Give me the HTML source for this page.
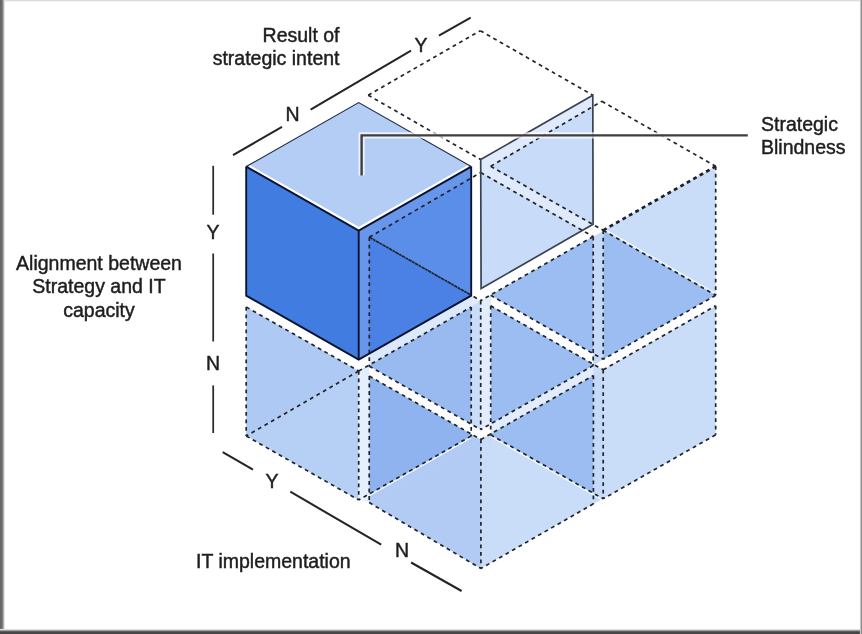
<!DOCTYPE html>
<html><head><meta charset="utf-8"><title>Strategic alignment cube</title>
<style>
html,body{margin:0;padding:0;background:#fff;}
body{width:862px;height:634px;overflow:hidden;position:relative;font-family:"Liberation Sans",sans-serif;}
.fl{position:absolute;left:0;top:0;width:6px;height:634px;background:linear-gradient(to right,#646464 0,#6c6c6c 2px,#9c9c9c 3.2px,#e4e4e4 4.4px,rgba(255,255,255,0) 5.4px);}
.fb{position:absolute;left:0;bottom:0;width:862px;height:6px;background:linear-gradient(to top,#424242 0,#484848 2.2px,#9a9a9a 3.4px,#e6e6e6 4.6px,rgba(255,255,255,0) 5.6px);}
.fr{position:absolute;right:0;top:0;width:3px;height:634px;background:linear-gradient(to left,#848484 0,#8e8e8e 0.7px,#d6d6d6 1.7px,rgba(255,255,255,0) 2.6px);}
.ft{position:absolute;left:0;top:0;width:862px;height:2px;background:linear-gradient(to bottom,#dadada 0,#dedede 0.9px,rgba(255,255,255,0) 1.9px);}
svg{position:absolute;left:0;top:0;filter:blur(0.62px);}
.d{stroke:#20242c;stroke-width:1.7;stroke-dasharray:3.8 3.7;fill:none;}
.d2{stroke:#1c2028;stroke-width:2.7;stroke-dasharray:3.9 3.5;fill:none;}
.s{stroke:#0a1430;stroke-width:1.9;fill:none;stroke-linejoin:miter;}
.s1{stroke:#1c2c4c;stroke-width:1.1;fill:none;}
.p{stroke:#3a4150;stroke-width:1.7;fill:none;}
.ax{stroke:#242424;stroke-width:2.05;}
.axv{stroke:#2a2a2a;stroke-width:1.75;}
.t{position:absolute;font-size:19.5px;line-height:23.2px;color:#1e1e1e;white-space:nowrap;filter:blur(0.7px);-webkit-text-stroke:0.45px #1e1e1e;}
</style></head><body>
<svg width="862" height="634" viewBox="0 0 862 634">
<polygon points="246.2,307.0 358.7,371.0 246.2,436.0" fill="#aecaf4" />
<polygon points="358.7,371.0 358.7,500.0 246.2,436.0" fill="#b6cff5" />
<polygon points="358.7,371.0 471.2,307.0 471.2,436.0 358.7,500.0" fill="#e2ecfc" />
<polygon points="490.7,305.8 603.2,369.8 603.2,498.8 490.7,434.8" fill="#c9dcf8" />
<polygon points="603.2,369.8 715.7,305.8 715.7,434.8 603.2,498.8" fill="#c9dcf8" />
<polygon points="603.2,230.3 715.7,166.3 715.7,295.3" fill="#c9dcf8" />
<polygon points="603.2,230.3 715.7,295.3 603.2,359.3" fill="#9cbdf1" />
<polygon points="490.7,166.3 603.2,230.3 603.2,359.3 490.7,295.3" fill="#c9dcf8" />
<polygon points="369.3,237.2 480.7,300.6 480.7,429.6 369.3,366.2" fill="#e2ecfc" />
<polygon points="480.7,300.6 593.2,236.6 593.2,365.6 480.7,429.6" fill="#e2ecfc" />
<polygon points="358.7,371.0 471.2,307.0 471.2,424.2 369.3,366.2" fill="#98baf0" />
<polygon points="471.2,307.0 480.7,300.6 480.7,429.6 471.2,424.2" fill="#c9dcf8" />
<polygon points="490.7,294.9 593.2,236.6 593.2,365.6 490.7,423.9" fill="#9cbdf1" />
<polygon points="369.3,376.1 480.9,439.5 369.2,502.6" fill="#8fb3ee" />
<polygon points="480.9,439.5 480.9,568.5 369.2,502.6" fill="#b1cbf4" />
<polygon points="480.9,439.5 593.4,375.5 593.4,503.8" fill="#9cbdf1" />
<polygon points="480.9,439.5 593.4,503.8 480.9,568.5" fill="#c9dcf8" />
<polygon points="471.2,434.0 480.9,439.5 471.2,445.0" fill="#b1cbf4" />
<polygon points="369.3,494.0 471.2,436.0 471.2,445.0 369.2,502.6" fill="#b1cbf4" />
<polygon points="480.9,439.5 490.7,433.9 490.7,445.1" fill="#c9dcf8" />
<polygon points="490.7,434.8 593.4,493.2 593.4,503.8 490.7,445.1" fill="#c9dcf8" />
<polygon points="369.3,366.2 480.7,429.6 480.9,439.5 369.3,376.1" fill="#ffffff" />
<polygon points="490.7,295.3 603.2,359.3 603.2,369.8 490.7,305.8" fill="#ffffff" />
<polygon points="480.7,429.6 593.2,365.6 593.4,375.5 480.9,439.5" fill="#e2ecfc" />
<polygon points="480.7,429.6 480.9,439.5 490.9,433.8 490.7,423.9" fill="#ffffff" />
<polygon points="480.7,300.6 490.7,294.9 490.7,423.9 480.7,429.6" fill="#e2ecfc" />
<polygon points="593.2,236.6 603.2,230.3 603.2,359.3 593.2,365.6" fill="#c5d9f8" />
<polygon points="593.4,375.5 603.2,369.8 603.2,498.8 593.4,503.8" fill="#c5d9f8" />
<polygon points="358.7,371.0 369.3,376.1 369.2,502.6 358.7,500.0" fill="#e6f0fd" />
<polygon points="369.3,353.6 471.2,295.6 471.2,307.0 369.3,365.0" fill="#dce8fb" />
<polygon points="358.7,359.6 369.3,353.6 369.3,365.0 358.7,371.0" fill="#ffffff" />
<polygon points="471.2,295.6 471.2,289.6 481.1,288.6 593.1,224.3 593.2,236.6 480.7,300.6" fill="#ffffff" />
<polygon points="593.1,224.3 603.2,230.3 603.2,231.3 593.2,236.6" fill="#ffffff" />
<polygon points="471.2,166.6 480.7,159.6 481.1,288.6 471.2,295.6" fill="#ffffff" />
<polygon points="246.2,166.6 358.7,230.6 358.7,359.6 246.2,295.6" fill="#417ce0" />
<polygon points="358.7,230.6 471.2,166.6 471.2,295.6 358.7,359.6" fill="#6796ea" />
<clipPath id="cR"><polygon points="358.7,230.6 471.2,166.6 471.2,295.6 358.7,359.6"/></clipPath>
<g clip-path="url(#cR)">
<polygon points="369.3,237.2 480.7,172.6 593.2,236.6 480.7,300.6" fill="#5a8ee8" />
<polygon points="369.3,237.2 480.7,300.6 480.7,429.6 369.3,366.2" fill="#4b81e4" />
</g>
<polygon points="246.2,166.6 358.7,102.6 471.2,166.6 358.7,230.6" fill="#b4cdf4" />
<polyline points="249.2,166.6 358.7,228.6 468.2,166.6" fill="none" stroke="#fff" stroke-width="3" stroke-linejoin="miter"/>
<clipPath id="cP"><polygon points="480.7,159.6 592.8,95.2 593.1,224.3 481.1,288.6"/></clipPath>
<polygon points="480.7,159.6 592.8,95.2 593.1,224.3 481.1,288.6" fill="#dfeafc" />
<g clip-path="url(#cP)">
<polygon points="490.7,166.3 601.9,101.3 715.7,166.3 603.2,230.3" fill="#c8dbf8" />
<polygon points="369.3,237.2 480.7,172.6 593.2,236.6 480.7,300.6" fill="#c8dbf8" />
</g>
<line x1="603.2" y1="228.7" x2="715.7" y2="293.7" stroke="#fff" stroke-width="1.4" opacity="0.85"/>
<line x1="490.7" y1="436.4" x2="603.2" y2="500.4" stroke="#fff" stroke-width="1.4" opacity="0.85"/>
<line x1="471.2" y1="437.6" x2="358.7" y2="501.6" stroke="#fff" stroke-width="1.4" opacity="0.85"/>
<line x1="368.2" y1="95.2" x2="480.3" y2="30.7" class="d"/>
<line x1="480.3" y1="30.7" x2="592.8" y2="95.2" class="d"/>
<line x1="368.2" y1="95.2" x2="480.7" y2="159.6" class="d"/>
<line x1="490.7" y1="166.3" x2="601.9" y2="101.3" class="d"/>
<line x1="601.9" y1="101.3" x2="715.7" y2="166.3" class="d"/>
<line x1="490.7" y1="166.3" x2="603.2" y2="230.3" class="d"/>
<line x1="715.7" y1="166.3" x2="715.7" y2="295.3" class="d"/>
<line x1="715.7" y1="295.3" x2="603.2" y2="359.3" class="d"/>
<line x1="603.2" y1="230.3" x2="603.2" y2="359.3" class="d"/>
<line x1="603.2" y1="230.3" x2="715.7" y2="295.3" class="d"/>
<line x1="490.7" y1="295.3" x2="603.2" y2="359.3" class="d"/>
<line x1="369.3" y1="237.2" x2="480.7" y2="172.6" class="d"/>
<line x1="480.7" y1="172.6" x2="593.2" y2="236.6" class="d"/>
<line x1="593.2" y1="236.6" x2="480.7" y2="300.6" class="d"/>
<line x1="369.3" y1="237.2" x2="480.7" y2="300.6" class="d"/>
<line x1="369.3" y1="237.2" x2="369.3" y2="366.2" class="d"/>
<line x1="369.3" y1="366.2" x2="480.7" y2="429.6" class="d"/>
<line x1="480.7" y1="300.6" x2="480.7" y2="429.6" class="d"/>
<line x1="593.2" y1="236.6" x2="593.2" y2="365.6" class="d"/>
<line x1="593.2" y1="365.6" x2="480.7" y2="429.6" class="d"/>
<line x1="246.2" y1="307.0" x2="358.7" y2="371.0" class="d"/>
<line x1="246.2" y1="307.0" x2="246.2" y2="436.0" class="d"/>
<line x1="246.2" y1="436.0" x2="358.7" y2="500.0" class="d"/>
<line x1="358.7" y1="371.0" x2="358.7" y2="500.0" class="d"/>
<line x1="358.7" y1="371.0" x2="246.2" y2="436.0" class="d"/>
<line x1="358.7" y1="371.0" x2="471.2" y2="307.0" class="d"/>
<line x1="471.2" y1="307.0" x2="471.2" y2="436.0" class="d"/>
<line x1="471.2" y1="436.0" x2="358.7" y2="500.0" class="d"/>
<line x1="369.3" y1="376.1" x2="480.9" y2="439.5" class="d"/>
<line x1="369.3" y1="376.1" x2="369.2" y2="502.6" class="d"/>
<line x1="369.2" y1="502.6" x2="480.9" y2="568.5" class="d"/>
<line x1="480.9" y1="439.5" x2="480.9" y2="568.5" class="d"/>
<line x1="480.9" y1="439.5" x2="593.4" y2="375.5" class="d"/>
<line x1="593.4" y1="375.5" x2="593.4" y2="503.8" class="d"/>
<line x1="593.4" y1="503.8" x2="480.9" y2="568.5" class="d"/>
<line x1="490.7" y1="305.8" x2="603.2" y2="369.8" class="d"/>
<line x1="490.7" y1="305.8" x2="490.7" y2="434.8" class="d"/>
<line x1="490.7" y1="434.8" x2="603.2" y2="498.8" class="d"/>
<line x1="603.2" y1="369.8" x2="603.2" y2="498.8" class="d"/>
<line x1="603.2" y1="369.8" x2="715.7" y2="305.8" class="d"/>
<line x1="715.7" y1="305.8" x2="715.7" y2="434.8" class="d"/>
<line x1="715.7" y1="434.8" x2="603.2" y2="498.8" class="d"/>
<g clip-path="url(#cR)"><line x1="369.3" y1="237.2" x2="480.7" y2="300.6" class="d" style="stroke-dasharray:2.7 4.8" stroke-dashoffset="-4.3"/></g>
<line x1="603.2" y1="230.3" x2="715.7" y2="166.3" class="d2"/>
<polyline points="246.2,166.6 358.7,102.6 471.2,166.6" class="s1"/>
<polyline points="246.2,166.6 246.2,295.6 358.7,359.6 471.2,295.6 471.2,166.6" class="s"/>
<polyline points="246.2,166.6 358.7,230.6 471.2,166.6" class="s"/>
<line x1="358.7" y1="230.6" x2="358.7" y2="359.6" class="s"/>
<polygon points="480.7,159.6 592.8,95.2 593.1,224.3 481.1,288.6" class="p"/>
<path d="M361.6,175.6 V135.4 H747.8" fill="none" stroke="#fff" stroke-width="6.2" stroke-linecap="butt" stroke-linejoin="miter" opacity="0.72"/>
<path d="M361.6,175.6 V135.4 H747.8" fill="none" stroke="#3e3e3e" stroke-width="2.4" stroke-linejoin="miter"/>
<line x1="233.0" y1="155.2" x2="282.0" y2="126.8" class="ax"/>
<line x1="310.6" y1="109.7" x2="411.0" y2="50.7" class="ax"/>
<line x1="438.9" y1="35.6" x2="470.7" y2="17.6" class="ax"/>
<line x1="213.2" y1="165.8" x2="213.2" y2="214.7" class="axv"/>
<line x1="213.2" y1="253.5" x2="213.2" y2="341.5" class="axv"/>
<line x1="213.2" y1="385.4" x2="213.2" y2="433.0" class="axv"/>
<line x1="222.7" y1="452.1" x2="253.0" y2="469.6" class="ax"/>
<line x1="290.3" y1="491.7" x2="381.2" y2="544.6" class="ax"/>
<line x1="411.1" y1="562.5" x2="461.6" y2="591.0" class="ax"/>
</svg>
<div class="t" style="right:522.5px;top:23.7px;text-align:right;line-height:23.6px">Result of<br>strategic intent</div>
<div class="t" style="left:-1px;width:200px;top:252px;text-align:center;line-height:23.4px">Alignment between<br>Strategy and IT<br>capacity</div>
<div class="t" style="left:196px;top:550px;">IT implementation</div>
<div class="t" style="left:761px;top:113px;">Strategic<br>Blindness</div>
<div class="t" style="left:285.5px;top:103px;">N</div>
<div class="t" style="left:414.6px;top:34.3px;">Y</div>
<div class="t" style="left:206.5px;top:221px;">Y</div>
<div class="t" style="left:206px;top:351.5px;">N</div>
<div class="t" style="left:265.5px;top:470px;">Y</div>
<div class="t" style="left:395px;top:539px;">N</div>
<div class="ft"></div><div class="fl"></div><div class="fb"></div><div class="fr"></div>
</body></html>
